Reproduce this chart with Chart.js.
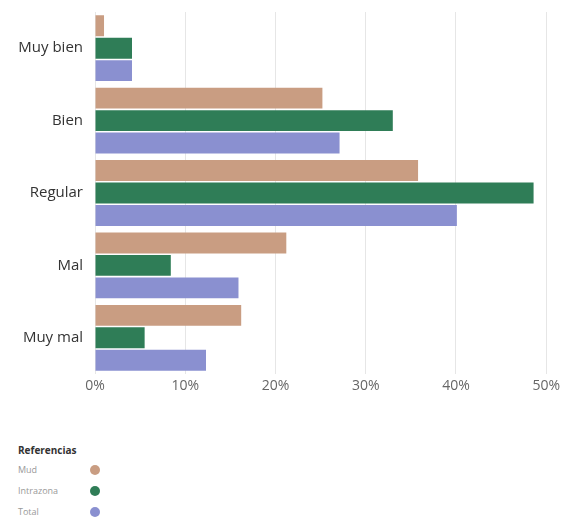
<!DOCTYPE html>
<html lang="es">
<head>
<meta charset="utf-8">
<script src="https://cdn.jsdelivr.net/npm/chart.js@4/dist/chart.umd.min.js"></script>
<style>
  html, body { margin: 0; padding: 0; background: #fff; }
  body { width: 564px; height: 519px; position: relative; overflow: hidden; font-family: "Open Sans", "DejaVu Sans", sans-serif; }
  #wrap { position: absolute; left: 0; top: 0; width: 564px; height: 400px; }
  #refs { position: absolute; left: 18px; top: 441px; }
  #refs .title { font-size: 10px; font-weight: bold; color: #333; height: 18px; line-height: 18px; }
  #refs .item { position: relative; height: 21px; line-height: 21px; font-size: 9px; color: #999; width: 90px; }
  #refs .dot { position: absolute; left: 72px; top: 6px; width: 10px; height: 10px; border-radius: 50%; }
</style>
</head>
<body>
<div id="wrap"><canvas id="chart"></canvas></div>
<div id="refs"><div class="title">Referencias</div></div>
<script>
// Categorías de valoración
const categories = ["Muy bien", "Bien", "Regular", "Mal", "Muy mal"];
// Series (porcentaje de respuestas)
const seriesNames = ["Mud", "Intrazona", "Total"];
const mud = [1, 25.2, 35.8, 21.2, 16.2];
const intrazona = [4.1, 33.0, 48.6, 8.4, 5.5];
const total = [4.1, 27.1, 40.1, 15.9, 12.3];
const seriesColors = ["#c99d82", "#2f7d57", "#8a90d0"];
// Marcas del eje X
const xTicks = [0, 10, 20, 30, 40, 50];

const seriesValues = [mud, intrazona, total];
const datasets = seriesNames.map((name, i) => ({
  label: name,
  data: seriesValues[i],
  backgroundColor: seriesColors[i],
  borderWidth: 0,
  categoryPercentage: 0.93,
  barPercentage: 0.93
}));

new Chart(document.getElementById("chart"), {
  type: "bar",
  data: { labels: categories, datasets },
  options: {
    indexAxis: "y",
    responsive: true,
    maintainAspectRatio: false,
    animation: false,
    layout: { padding: { top: 12, right: 14, left: 0, bottom: 0 } },
    plugins: { legend: { display: false }, tooltip: { enabled: false } },
    scales: {
      x: {
        min: 0,
        max: 50,
        afterBuildTicks: (scale) => { scale.ticks = xTicks.map(v => ({ value: v })); },
        afterFit: (scale) => { scale.height = 26; },
        grid: { color: "#e6e6e6", drawTicks: false },
        border: { display: false },
        ticks: {
          padding: 4,
          color: "#666",
          font: { family: "Open Sans", size: 14 },
          callback: (v) => v + "%"
        }
      },
      y: {
        afterFit: (scale) => {
          scale.width = 95;
          scale.paddingTop = 0;
          scale.paddingBottom = 0;
        },
        grid: { display: false, drawTicks: false },
        border: { display: false },
        ticks: {
          padding: 12,
          color: "#333",
          font: { family: "Open Sans", size: 15 }
        }
      }
    }
  }
});

// Leyenda de referencias
const refs = document.getElementById("refs");
seriesNames.forEach((name, i) => {
  const item = document.createElement("div");
  item.className = "item";
  item.textContent = name;
  const dot = document.createElement("span");
  dot.className = "dot";
  dot.style.background = seriesColors[i];
  item.appendChild(dot);
  refs.appendChild(item);
});
</script>
</body>
</html>
